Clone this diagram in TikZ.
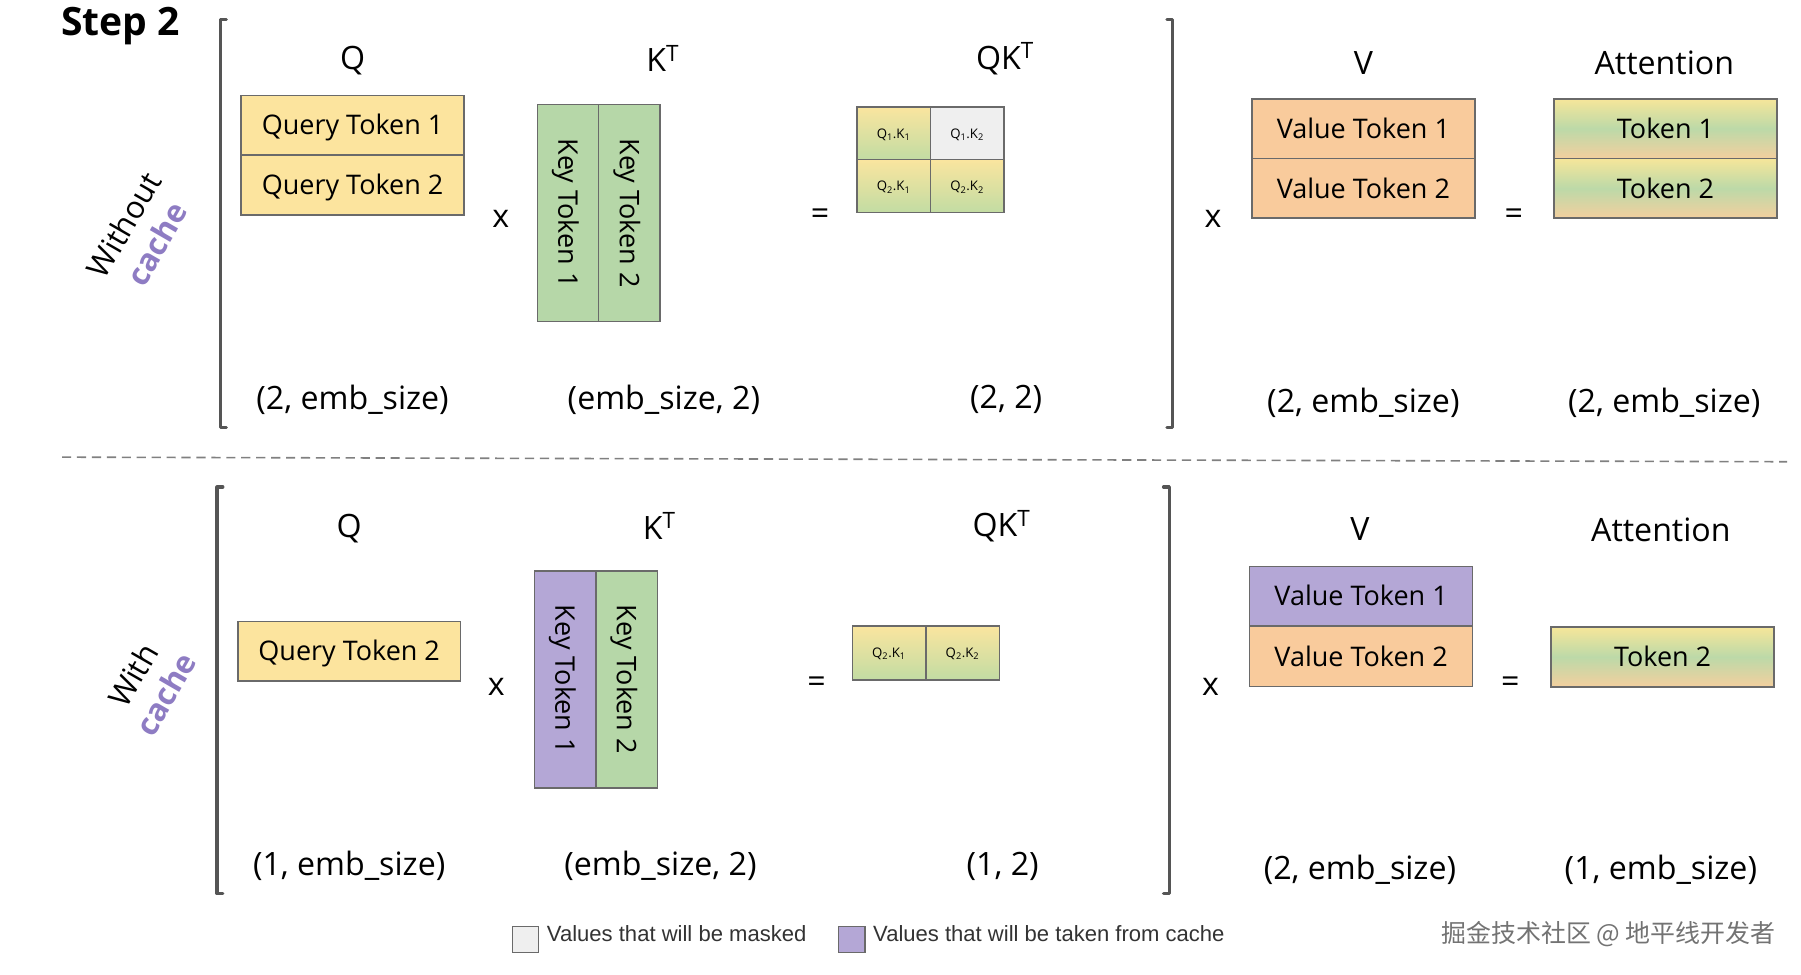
\documentclass[tikz,border=0pt]{standalone}
\usepackage{fontspec}
\setmainfont{Open Sans}
\newfontfamily\legfont{Liberation Sans}
\newfontfamily\cjkfont{Noto Sans CJK SC}
\definecolor{qyel}{HTML}{FCE49E}
\definecolor{kgreen}{HTML}{B6D7A8}
\definecolor{vorange}{HTML}{F9CB9C}
\definecolor{cpurple}{HTML}{B4A7D6}
\definecolor{maskgray}{HTML}{EFEFEF}
\definecolor{bordercol}{HTML}{6A6A6A}
\definecolor{brackcol}{HTML}{555555}
\definecolor{cachetxt}{HTML}{8E7CC3}
\definecolor{gradY}{HTML}{FAE59F}
\definecolor{gradG}{HTML}{C2DCA3}
\definecolor{attY}{HTML}{F6E69A}
\definecolor{attG}{HTML}{BCD9A8}
\definecolor{attO}{HTML}{F3CF9E}
\begin{document}
\begin{tikzpicture}[x=1pt,y=-1pt,
  cell/.style={draw=bordercol, line width=1.3pt, inner sep=0pt, text=black,
    text height=16.8pt, text depth=0pt, font=\fontsize{23.5}{27}\selectfont},
  qcell/.style={cell, fill=qyel, minimum width=194pt, minimum height=52pt},
  vcell/.style={cell, fill=vorange, minimum width=194pt, minimum height=52pt},
  pcell/.style={cell, fill=cpurple, minimum width=194pt, minimum height=52pt},
  acell/.style={cell, top color=attY, bottom color=attO, middle color=attG,
    minimum width=194pt, minimum height=52pt},
  kcell/.style={cell, rotate=-90, minimum width=189pt, minimum height=53.5pt},
  qkcell/.style={cell, top color=gradY, bottom color=gradG, minimum width=64pt,
    minimum height=46pt, text height=8.5pt, font=\fontsize{11.5}{13}\selectfont},
  mcell/.style={cell, fill=maskgray, minimum width=64pt, minimum height=46pt,
    text height=8.5pt, font=\fontsize{11.5}{13}\selectfont},
  lab/.style={inner sep=0pt, yshift=-2pt, font=\fontsize{28}{32}\selectfont},
  oper/.style={inner sep=0pt, yshift=-2pt, font=\fontsize{28}{32}\selectfont},
  brack/.style={draw=brackcol, line width=2.8pt, line cap=round, line join=round},
  side/.style={align=center, rotate=60, inner sep=0pt, font=\fontsize{27}{30}\selectfont},
  legbox/.style={draw=bordercol, line width=1.2pt, minimum width=23pt, minimum height=23pt, inner sep=0pt},
  legtext/.style={anchor=west, inner sep=0pt, text=black!80, font=\legfont\fontsize{19.2}{22}\selectfont}
]
\useasboundingbox (0,0) rectangle (1568,848);
\fill[white] (0,0) rectangle (1568,848);

% title
\node[anchor=west, inner sep=0pt, font=\bfseries\fontsize{34}{38}\selectfont] (title) at (53,23) {Step 2};

% side labels
\node[side] (side1) at (122,204) {Without\\[3pt]{\bfseries\color{cachetxt}cache}};
\node[side] (side2) at (130,596) {With\\[3pt]{\bfseries\color{cachetxt}cache}};

% brackets top
\coordinate (b1a) at (197,17); \coordinate (b1b) at (192,17);
\coordinate (b1c) at (192,372); \coordinate (b1d) at (197,372);
\draw[brack] (b1a) -- (b1b) -- (b1c) -- (b1d);
\coordinate (b2a) at (1016,17); \coordinate (b2b) at (1021,17);
\coordinate (b2c) at (1021,372); \coordinate (b2d) at (1016,372);
\draw[brack] (b2a) -- (b2b) -- (b2c) -- (b2d);
% brackets bottom
\coordinate (b3a) at (194,424); \coordinate (b3b) at (189,424);
\coordinate (b3c) at (189,778); \coordinate (b3d) at (194,778);
\draw[brack] (b3a) -- (b3b) -- (b3c) -- (b3d);
\coordinate (b4a) at (1013,424); \coordinate (b4b) at (1018,424);
\coordinate (b4c) at (1018,778); \coordinate (b4d) at (1013,778);
\draw[brack] (b4a) -- (b4b) -- (b4c) -- (b4d);

% separator
\coordinate (sepL) at (54,398); \coordinate (sepR) at (1556,402);
\draw[gray, line width=1.4pt, dash pattern=on 8pt off 5pt] (sepL) -- (sepR);

% ================= TOP =================
\node[lab] (tQ) at (307,51) {Q};
\node[lab] (tK) at (577,49) {K\textsuperscript{T}};
\node[lab] (tQK) at (875,49) {QK\textsuperscript{T}};
\node[lab] (tV) at (1187,53) {V};
\node[lab] (tA) at (1449,53) {Attention};

\node[qcell] (tq1) at (307,109) {Query Token 1};
\node[qcell] (tq2) at (307,161) {Query Token 2};
\node[oper] (tx1) at (436,189) {x};
\node[kcell, fill=kgreen] (tk1) at (494.5,185.5) {Key Token 1};
\node[kcell, fill=kgreen] (tk2) at (548,185.5) {Key Token 2};
\node[oper] (te1) at (714,187) {=};
\node[qkcell] (tc11) at (778,116) {Q\textsubscript{1}.K\textsubscript{1}};
\node[mcell] (tc12) at (842,116) {Q\textsubscript{1}.K\textsubscript{2}};
\node[qkcell] (tc21) at (778,162) {Q\textsubscript{2}.K\textsubscript{1}};
\node[qkcell] (tc22) at (842,162) {Q\textsubscript{2}.K\textsubscript{2}};
\node[oper] (tx2) at (1056,189) {x};
\node[vcell] (tv1) at (1187,112) {Value Token 1};
\node[vcell] (tv2) at (1187,164) {Value Token 2};
\node[oper] (te2) at (1318,187) {=};
\node[acell] (ta1) at (1450,112) {Token 1};
\node[acell] (ta2) at (1450,164) {Token 2};

\node[lab] (td1) at (307,346) {(2, emb\_size)};
\node[lab] (td2) at (578,346) {(emb\_size, 2)};
\node[lab] (td3) at (876,346) {(2, 2)};
\node[lab] (td4) at (1187,349) {(2, emb\_size)};
\node[lab] (td5) at (1449,349) {(2, emb\_size)};

% ================= BOTTOM =================
\node[lab] (bQ) at (304,458) {Q};
\node[lab] (bK) at (574,456) {K\textsuperscript{T}};
\node[lab] (bQK) at (872,456) {QK\textsuperscript{T}};
\node[lab] (bV) at (1184,459) {V};
\node[lab] (bA) at (1446,459) {Attention};

\node[qcell] (bq2) at (304,567) {Query Token 2};
\node[oper] (bx1) at (432,596) {x};
\node[kcell, fill=cpurple] (bk1) at (492,591.5) {Key Token 1};
\node[kcell, fill=kgreen] (bk2) at (545.5,591.5) {Key Token 2};
\node[oper] (be1) at (711,594) {=};
\node[qkcell, minimum height=47pt] (bc21) at (774,568.5) {Q\textsubscript{2}.K\textsubscript{1}};
\node[qkcell, minimum height=47pt] (bc22) at (838,568.5) {Q\textsubscript{2}.K\textsubscript{2}};
\node[oper] (bx2) at (1054,596) {x};
\node[pcell] (bv1) at (1185,519) {Value Token 1};
\node[vcell] (bv2) at (1185,571.5) {Value Token 2};
\node[oper] (be2) at (1315,594) {=};
\node[acell] (ba2) at (1447.5,572) {Token 2};

\node[lab] (bd1) at (304,752) {(1, emb\_size)};
\node[lab] (bd2) at (575,752) {(emb\_size, 2)};
\node[lab] (bd3) at (873,752) {(1, 2)};
\node[lab] (bd4) at (1184,755) {(2, emb\_size)};
\node[lab] (bd5) at (1446,755) {(1, emb\_size)};

% legend
\node[legbox, fill=maskgray] (lg1) at (457.5,818) {};
\node[legtext] (lt1) at (476,813) {Values that will be masked};
\node[legbox, fill=cpurple] (lg2) at (741.5,818) {};
\node[legtext] (lt2) at (760,813) {Values that will be taken from cache};

% watermark
\node[anchor=east, inner sep=0pt, text=black!55, font=\cjkfont\fontsize{21.7}{24}\selectfont] (wm) at (1546,813) {掘金技术社区 @ 地平线开发者};
\end{tikzpicture}
\end{document}
